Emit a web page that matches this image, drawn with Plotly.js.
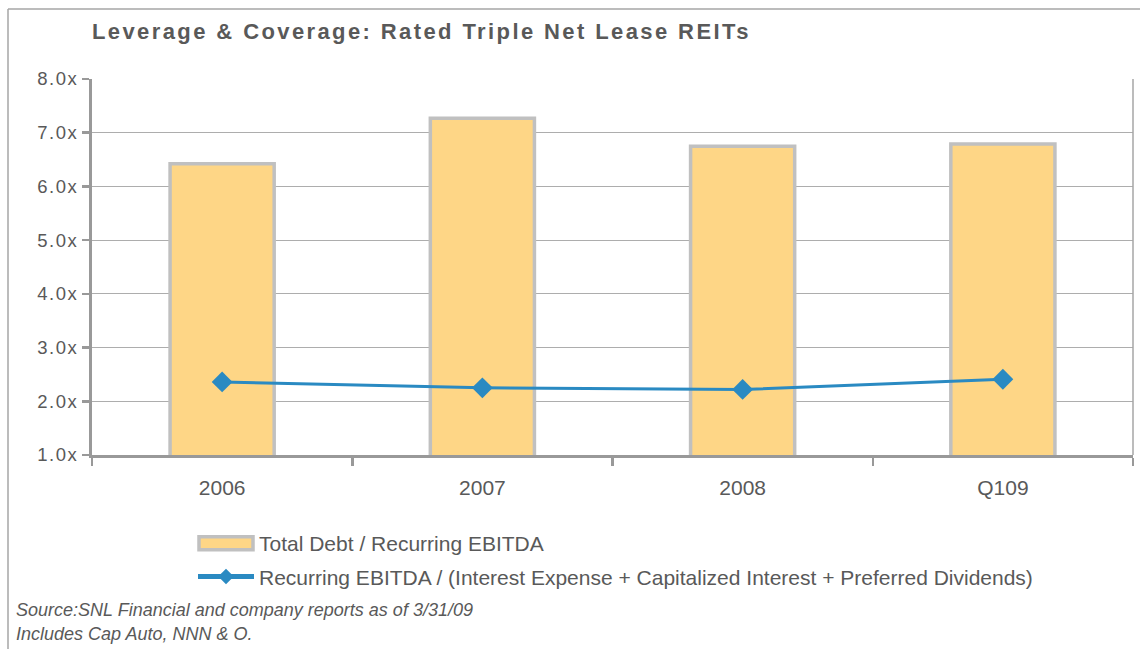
<!DOCTYPE html>
<html>
<head>
<meta charset="utf-8">
<script src="https://cdn.plot.ly/plotly-3.0.1.min.js"></script>
<style>
html,body{margin:0;padding:0;background:#fff;}
#chart{width:1140px;height:649px;}
#chart .gtitle{letter-spacing:2.4px;}
#chart .ytick text{letter-spacing:1.5px;}
</style>
</head>
<body>
<div id="chart"></div>
<script>
const categories = ["2006", "2007", "2008", "Q109"];
const debtToEbitda = [6.42, 7.27, 6.75, 6.79];
const ebitdaCoverage = [2.36, 2.25, 2.22, 2.41];
const yTickValues = [1, 2, 3, 4, 5, 6, 7, 8];
const yTickLabels = ["1.0x", "2.0x", "3.0x", "4.0x", "5.0x", "6.0x", "7.0x", "8.0x"];
const barName = "Total Debt / Recurring EBITDA";
const lineName = "Recurring EBITDA / (Interest Expense + Capitalized Interest + Preferred Dividends)";
const titleText = "Leverage &amp; Coverage: Rated Triple Net Lease REITs";
const notes = ["Source:SNL Financial and company reports as of 3/31/09", "Includes Cap Auto, NNN &amp; O."];

const textColor = "#595959";
const fontFam = "Liberation Sans, Arial, sans-serif";
const barFill = "#FED686";
const barEdge = "#C0C0C0";

const traces = [
  {
    type: "bar", x: categories, y: debtToEbitda, name: barName,
    width: 0.4, legendgroup: "a",
    marker: {color: barFill, line: {color: barEdge, width: 3.5}},
    hoverinfo: "y"
  },
  {
    type: "scatter", mode: "lines+markers", x: categories, y: ebitdaCoverage, name: lineName,
    legendgroup: "b",
    line: {color: "#2A8AC2", width: 3},
    marker: {symbol: "diamond", size: 16, color: "#2A8AC2"}
  }
];

// plot area in pixels: left 92, right 1133, top 79, bottom 455
const L = 92, R = 1133, T = 79, B = 455;
const px = v => (v - L) / (R - L);
const py = v => (B - v) / (B - T);

const layout = {
  width: 1140, height: 649,
  margin: {l: L, r: 1140 - R, t: T, b: 649 - B},
  paper_bgcolor: "#fff", plot_bgcolor: "#fff",
  font: {family: fontFam, color: textColor, size: 18},
  title: {
    text: "<b>" + titleText + "</b>",
    font: {family: fontFam, size: 22, color: textColor},
    x: px(92), xref: "paper", xanchor: "left",
    y: 1 - 31 / 649, yref: "container", yanchor: "middle"
  },
  showlegend: true,
  legend: {
    x: px(193), y: py(523), xanchor: "left", yanchor: "top",
    font: {family: fontFam, size: 21, color: textColor},
    itemwidth: 56, itemsizing: "constant", tracegroupgap: 3, bgcolor: "rgba(0,0,0,0)"
  },
  xaxis: {
    type: "category", showgrid: false, zeroline: false,
    showline: true, linecolor: "#999999", linewidth: 3,
    ticks: "outside", tickson: "boundaries", ticklen: 8, tickwidth: 2.5, tickcolor: "#999999",
    tickfont: {size: 21, color: textColor},
    ticklabelstandoff: 12
  },
  yaxis: {
    range: [1, 8], tickvals: yTickValues, ticktext: yTickLabels,
    showgrid: true, gridcolor: "#ADADAD", gridwidth: 1,
    zeroline: false, showline: true, linecolor: "#999999", linewidth: 3,
    ticks: "outside", ticklen: 7, tickwidth: 2.5, tickcolor: "#999999",
    tickfont: {size: 18.5, color: textColor}
  },
  shapes: [
    {type: "line", xref: "paper", yref: "paper", x0: 1, x1: 1, y0: 0, y1: 1, line: {color: "#A6A6A6", width: 1.5}},
    {type: "line", xref: "paper", yref: "paper", x0: px(8), x1: px(1145), y0: py(9), y1: py(9), line: {color: "#A6A6A6", width: 1.5}},
    {type: "line", xref: "paper", yref: "paper", x0: px(8), x1: px(8), y0: py(9), y1: py(660), line: {color: "#A6A6A6", width: 1.5}}
  ],
  annotations: notes.map((t, i) => ({
    text: "<i>" + t + "</i>", xref: "paper", yref: "paper",
    x: px(14), y: py(610 + i * 24), xanchor: "left", yanchor: "middle",
    showarrow: false, font: {family: fontFam, size: 18, color: textColor}
  }))
};

function widenBarSwatch(gd) {
  gd.querySelectorAll(".legend .traces").forEach(item => {
    const txt = item.querySelector(".legendtext");
    if (txt && txt.textContent === barName) {
      item.querySelectorAll(".legendpoints path").forEach(p => {
        p.setAttribute("d", "M27,6.5H-27V-6.5H27Z");
        p.style.fill = barFill;
        p.style.stroke = barEdge;
        p.style.strokeWidth = "3.5px";
        p.style.strokeOpacity = "1";
      });
    }
  });
}

Plotly.newPlot("chart", traces, layout, {displayModeBar: false, staticPlot: true}).then(gd => {
  widenBarSwatch(gd);
  setTimeout(() => widenBarSwatch(gd), 50);
});
</script>
</body>
</html>
